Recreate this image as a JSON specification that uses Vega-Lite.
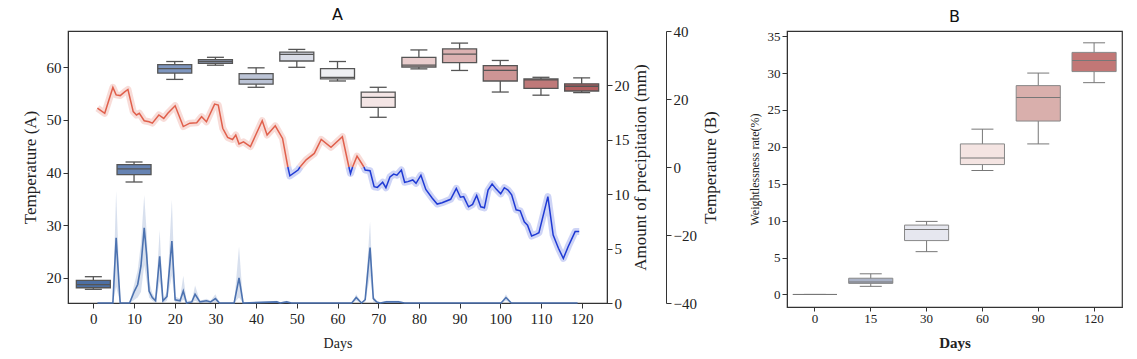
{
  "$schema": "https://vega.github.io/schema/vega-lite/v6.json",
  "padding": {"left": 20, "top": 6, "right": 5, "bottom": 5},
  "background": "white",
  "config": {
    "view": {"stroke": "#333", "strokeWidth": 1.2},
    "axis": {"grid": false, "labelFont": "Liberation Serif", "titleFont": "Liberation Serif", "titleFontWeight": "normal", "domainColor": "#333", "tickColor": "#333", "labelColor": "#222", "titleColor": "#222"},
    "title": {"font": "DejaVu Sans", "fontWeight": "normal", "fontSize": 16, "color": "#111"}
  },
  "datasets": {
    "temp": [
      {"day": 1, "t": 17.3, "zone": "warm", "seg": "r1"}, {"day": 2.8, "t": 15.8, "zone": "warm", "seg": "r1"}, {"day": 4.8, "t": 23.4, "zone": "warm", "seg": "r1"}, {"day": 5.6, "t": 21.2, "zone": "warm", "seg": "r1"}, {"day": 6.6, "t": 21.0, "zone": "warm", "seg": "r1"}, {"day": 7.7, "t": 22.1, "zone": "warm", "seg": "r1"}, {"day": 8.5, "t": 22.8, "zone": "warm", "seg": "r1"}, {"day": 9.8, "t": 16.3, "zone": "warm", "seg": "r1"}, {"day": 10.6, "t": 15.3, "zone": "warm", "seg": "r1"}, {"day": 11.3, "t": 15.8, "zone": "warm", "seg": "r1"}, {"day": 12.5, "t": 13.6, "zone": "warm", "seg": "r1"}, {"day": 13.7, "t": 13.3, "zone": "warm", "seg": "r1"}, {"day": 14.5, "t": 12.9, "zone": "warm", "seg": "r1"}, {"day": 16.1, "t": 15.3, "zone": "warm", "seg": "r1"}, {"day": 17.3, "t": 14.3, "zone": "warm", "seg": "r1"}, {"day": 18.3, "t": 15.8, "zone": "warm", "seg": "r1"}, {"day": 20.1, "t": 18.0, "zone": "warm", "seg": "r1"}, {"day": 22.1, "t": 11.9, "zone": "warm", "seg": "r1"}, {"day": 23.7, "t": 12.9, "zone": "warm", "seg": "r1"}, {"day": 25.4, "t": 13.0, "zone": "warm", "seg": "r1"}, {"day": 26.6, "t": 14.8, "zone": "warm", "seg": "r1"}, {"day": 27.8, "t": 13.3, "zone": "warm", "seg": "r1"}, {"day": 29.8, "t": 18.5, "zone": "warm", "seg": "r1"}, {"day": 30.7, "t": 18.2, "zone": "warm", "seg": "r1"}, {"day": 31.8, "t": 11.4, "zone": "warm", "seg": "r1"}, {"day": 33.0, "t": 8.7, "zone": "warm", "seg": "r1"}, {"day": 34.2, "t": 8.1, "zone": "warm", "seg": "r1"}, {"day": 35.0, "t": 9.4, "zone": "warm", "seg": "r1"}, {"day": 35.8, "t": 6.8, "zone": "warm", "seg": "r1"}, {"day": 36.9, "t": 7.4, "zone": "warm", "seg": "r1"}, {"day": 38.6, "t": 6.0, "zone": "warm", "seg": "r1"}, {"day": 39.9, "t": 9.4, "zone": "warm", "seg": "r1"}, {"day": 41.5, "t": 13.6, "zone": "warm", "seg": "r1"}, {"day": 42.7, "t": 9.4, "zone": "warm", "seg": "r1"}, {"day": 44.7, "t": 12.1, "zone": "warm", "seg": "r1"}, {"day": 46.5, "t": 8.4, "zone": "warm", "seg": "r1"}, {"day": 47.8, "t": 0, "zone": "warm", "seg": "r1"},
      {"day": 47.8, "t": 0, "zone": "cold", "seg": "b1"}, {"day": 48.3, "t": -2.6, "zone": "cold", "seg": "b1"}, {"day": 50.3, "t": -0.9, "zone": "cold", "seg": "b1"}, {"day": 50.8, "t": 0, "zone": "cold", "seg": "b1"},
      {"day": 50.8, "t": 0, "zone": "warm", "seg": "r2"}, {"day": 52.3, "t": 2.1, "zone": "warm", "seg": "r2"}, {"day": 54.3, "t": 4.0, "zone": "warm", "seg": "r2"}, {"day": 56.0, "t": 8.1, "zone": "warm", "seg": "r2"}, {"day": 58.4, "t": 5.8, "zone": "warm", "seg": "r2"}, {"day": 61.2, "t": 8.9, "zone": "warm", "seg": "r2"}, {"day": 62.8, "t": 0, "zone": "warm", "seg": "r2"},
      {"day": 62.8, "t": 0, "zone": "cold", "seg": "b2"}, {"day": 63.2, "t": -1.9, "zone": "cold", "seg": "b2"}, {"day": 63.7, "t": 0, "zone": "cold", "seg": "b2"},
      {"day": 63.7, "t": 0, "zone": "warm", "seg": "r3"}, {"day": 64.8, "t": 3.2, "zone": "warm", "seg": "r3"}, {"day": 66.5, "t": 0, "zone": "warm", "seg": "r3"},
      {"day": 66.5, "t": 0, "zone": "cold", "seg": "b3"}, {"day": 66.8, "t": -0.9, "zone": "cold", "seg": "b3"}, {"day": 68.0, "t": -1.1, "zone": "cold", "seg": "b3"}, {"day": 69.0, "t": -5.8, "zone": "cold", "seg": "b3"}, {"day": 69.8, "t": -6.0, "zone": "cold", "seg": "b3"}, {"day": 71.1, "t": -4.5, "zone": "cold", "seg": "b3"}, {"day": 71.9, "t": -6.1, "zone": "cold", "seg": "b3"}, {"day": 72.9, "t": -2.9, "zone": "cold", "seg": "b3"}, {"day": 73.8, "t": -2.1, "zone": "cold", "seg": "b3"}, {"day": 74.6, "t": -2.4, "zone": "cold", "seg": "b3"}, {"day": 75.7, "t": -0.9, "zone": "cold", "seg": "b3"}, {"day": 76.5, "t": -4.5, "zone": "cold", "seg": "b3"}, {"day": 77.3, "t": -4.3, "zone": "cold", "seg": "b3"}, {"day": 78.5, "t": -3.8, "zone": "cold", "seg": "b3"}, {"day": 79.3, "t": -4.8, "zone": "cold", "seg": "b3"}, {"day": 80.5, "t": -2.4, "zone": "cold", "seg": "b3"}, {"day": 81.7, "t": -6.6, "zone": "cold", "seg": "b3"}, {"day": 83.3, "t": -9.2, "zone": "cold", "seg": "b3"}, {"day": 84.5, "t": -10.9, "zone": "cold", "seg": "b3"}, {"day": 85.7, "t": -10.5, "zone": "cold", "seg": "b3"}, {"day": 87.8, "t": -9.5, "zone": "cold", "seg": "b3"}, {"day": 89.2, "t": -6.3, "zone": "cold", "seg": "b3"}, {"day": 90.2, "t": -8.9, "zone": "cold", "seg": "b3"}, {"day": 91.0, "t": -8.7, "zone": "cold", "seg": "b3"}, {"day": 92.2, "t": -11.7, "zone": "cold", "seg": "b3"}, {"day": 93.2, "t": -11.0, "zone": "cold", "seg": "b3"}, {"day": 94.2, "t": -8.4, "zone": "cold", "seg": "b3"}, {"day": 95.2, "t": -11.7, "zone": "cold", "seg": "b3"}, {"day": 96.1, "t": -12.0, "zone": "cold", "seg": "b3"}, {"day": 97.0, "t": -6.8, "zone": "cold", "seg": "b3"}, {"day": 98.0, "t": -5.0, "zone": "cold", "seg": "b3"}, {"day": 99.0, "t": -6.5, "zone": "cold", "seg": "b3"}, {"day": 100.1, "t": -7.9, "zone": "cold", "seg": "b3"}, {"day": 101.0, "t": -6.1, "zone": "cold", "seg": "b3"}, {"day": 101.9, "t": -6.8, "zone": "cold", "seg": "b3"}, {"day": 102.8, "t": -8.2, "zone": "cold", "seg": "b3"}, {"day": 103.9, "t": -12.6, "zone": "cold", "seg": "b3"}, {"day": 104.9, "t": -12.9, "zone": "cold", "seg": "b3"}, {"day": 105.9, "t": -16.1, "zone": "cold", "seg": "b3"}, {"day": 106.7, "t": -17.1, "zone": "cold", "seg": "b3"}, {"day": 107.7, "t": -20.3, "zone": "cold", "seg": "b3"}, {"day": 108.7, "t": -19.8, "zone": "cold", "seg": "b3"}, {"day": 109.5, "t": -19.3, "zone": "cold", "seg": "b3"}, {"day": 111.7, "t": -8.7, "zone": "cold", "seg": "b3"}, {"day": 113.0, "t": -20.0, "zone": "cold", "seg": "b3"}, {"day": 114.3, "t": -23.9, "zone": "cold", "seg": "b3"}, {"day": 115.5, "t": -26.9, "zone": "cold", "seg": "b3"}, {"day": 116.7, "t": -23.4, "zone": "cold", "seg": "b3"}, {"day": 118.4, "t": -19.0, "zone": "cold", "seg": "b3"}, {"day": 119.4, "t": -19.0, "zone": "cold", "seg": "b3"}
    ],
    "precip": [
      {"day": 1, "p": 0, "lo": 0, "hi": 0}, {"day": 4.8, "p": 0, "lo": 0, "hi": 0}, {"day": 5.6, "p": 6.0, "lo": 1.5, "hi": 10.3}, {"day": 6.6, "p": 0, "lo": 0, "hi": 0}, {"day": 8.9, "p": 0, "lo": 0, "hi": 0}, {"day": 10.1, "p": 1.1, "lo": 0.3, "hi": 1.8}, {"day": 10.9, "p": 1.7, "lo": 0.5, "hi": 3.0}, {"day": 11.7, "p": 3.4, "lo": 1.0, "hi": 5.5}, {"day": 12.5, "p": 6.9, "lo": 3.5, "hi": 9.9}, {"day": 13.1, "p": 4.4, "lo": 2.0, "hi": 6.5}, {"day": 13.7, "p": 1.1, "lo": 0.5, "hi": 2.0}, {"day": 14.5, "p": 0.5, "lo": 0.2, "hi": 0.9}, {"day": 15.3, "p": 0.2, "lo": 0, "hi": 0.4}, {"day": 16.3, "p": 4.3, "lo": 2.0, "hi": 6.7}, {"day": 17.1, "p": 0.2, "lo": 0, "hi": 0.4}, {"day": 18.1, "p": 0.6, "lo": 0.2, "hi": 1.0}, {"day": 19.3, "p": 5.7, "lo": 2.5, "hi": 9.5}, {"day": 20.1, "p": 0.3, "lo": 0, "hi": 0.6}, {"day": 21.3, "p": 0.2, "lo": 0, "hi": 0.4}, {"day": 22.1, "p": 1.1, "lo": 0.3, "hi": 2.5}, {"day": 22.9, "p": 0, "lo": 0, "hi": 0.2}, {"day": 24.2, "p": 0.1, "lo": 0, "hi": 0.2}, {"day": 25.0, "p": 0.8, "lo": 0.2, "hi": 1.6}, {"day": 26.2, "p": 0.1, "lo": 0, "hi": 0.2}, {"day": 27.8, "p": 0.2, "lo": 0, "hi": 0.4}, {"day": 28.8, "p": 0.1, "lo": 0, "hi": 0.2}, {"day": 30.0, "p": 0.4, "lo": 0.1, "hi": 0.8}, {"day": 31.0, "p": 0, "lo": 0, "hi": 0}, {"day": 34.6, "p": 0, "lo": 0, "hi": 0}, {"day": 35.8, "p": 2.3, "lo": 0.5, "hi": 5.2}, {"day": 36.8, "p": 0, "lo": 0, "hi": 0}, {"day": 45.1, "p": 0.1, "lo": 0, "hi": 0.2}, {"day": 45.9, "p": 0, "lo": 0, "hi": 0}, {"day": 47.5, "p": 0.1, "lo": 0, "hi": 0.2}, {"day": 48.7, "p": 0, "lo": 0, "hi": 0}, {"day": 63.5, "p": 0, "lo": 0, "hi": 0}, {"day": 64.6, "p": 0.5, "lo": 0.2, "hi": 0.8}, {"day": 65.9, "p": 0, "lo": 0, "hi": 0}, {"day": 66.8, "p": 0.3, "lo": 0.1, "hi": 0.5}, {"day": 68.0, "p": 5.1, "lo": 2.5, "hi": 7.5}, {"day": 68.8, "p": 0.4, "lo": 0.1, "hi": 0.7}, {"day": 69.6, "p": 0.1, "lo": 0, "hi": 0.2}, {"day": 70.5, "p": 0, "lo": 0, "hi": 0}, {"day": 72.0, "p": 0.1, "lo": 0, "hi": 0.2}, {"day": 75.0, "p": 0.1, "lo": 0, "hi": 0.2}, {"day": 76.5, "p": 0, "lo": 0, "hi": 0}, {"day": 100.2, "p": 0, "lo": 0, "hi": 0}, {"day": 101.4, "p": 0.5, "lo": 0.2, "hi": 0.8}, {"day": 102.7, "p": 0, "lo": 0, "hi": 0}, {"day": 119.0, "p": 0, "lo": 0, "hi": 0}
    ],
    "boxA": [
      {"day": 0, "lo": 17.8, "q1": 18.1, "med": 18.7, "q3": 19.5, "hi": 20.2},
      {"day": 10, "lo": 38.2, "q1": 39.6, "med": 40.7, "q3": 41.5, "hi": 42.0},
      {"day": 20, "lo": 57.7, "q1": 58.9, "med": 59.75, "q3": 60.5, "hi": 61.1},
      {"day": 30, "lo": 60.4, "q1": 60.75, "med": 61.1, "q3": 61.45, "hi": 61.9},
      {"day": 40, "lo": 56.2, "q1": 56.8, "med": 57.7, "q3": 58.8, "hi": 59.9},
      {"day": 50, "lo": 60.0, "q1": 61.2, "med": 62.45, "q3": 62.9, "hi": 63.4},
      {"day": 60, "lo": 57.4, "q1": 57.8, "med": 58.1, "q3": 59.75, "hi": 61.1},
      {"day": 70, "lo": 50.5, "q1": 52.4, "med": 54.3, "q3": 55.3, "hi": 56.2},
      {"day": 80, "lo": 59.7, "q1": 60.06, "med": 60.4, "q3": 61.9, "hi": 63.3},
      {"day": 90, "lo": 59.4, "q1": 60.9, "med": 62.5, "q3": 63.5, "hi": 64.6},
      {"day": 100, "lo": 55.3, "q1": 57.4, "med": 59.4, "q3": 60.3, "hi": 61.3},
      {"day": 110, "lo": 54.7, "q1": 56.0, "med": 57.6, "q3": 57.8, "hi": 58.1},
      {"day": 120, "lo": 55.2, "q1": 55.5, "med": 56.4, "q3": 56.85, "hi": 58.0}
    ],
    "boxB": [
      {"stage": 0, "lo": 0, "q1": 0, "med": 0, "q3": 0, "hi": 0},
      {"stage": 15, "lo": 1.1, "q1": 1.5, "med": 1.7, "q3": 2.2, "hi": 2.8},
      {"stage": 30, "lo": 5.8, "q1": 7.3, "med": 8.8, "q3": 9.4, "hi": 9.9},
      {"stage": 60, "lo": 16.8, "q1": 17.6, "med": 18.5, "q3": 20.4, "hi": 22.4},
      {"stage": 90, "lo": 20.4, "q1": 23.5, "med": 26.7, "q3": 28.3, "hi": 30.0},
      {"stage": 120, "lo": 28.7, "q1": 30.2, "med": 31.7, "q3": 32.8, "hi": 34.1}
    ]
  },
  "resolve": {"scale": {"x": "independent", "y": "independent", "color": "independent"}},
  "spacing": 27,
  "hconcat": [
    {
      "width": 539,
      "height": 272,
      "title": {"text": "A", "offset": 1},
      "encoding": {
        "x": {"field": "day", "type": "quantitative", "title": "Days",
          "scale": {"domain": [-5, 125], "nice": false, "zero": false},
          "axis": {"values": [0, 10, 20, 30, 40, 50, 60, 70, 80, 90, 100, 110, 120], "labelFontSize": 15, "titleFontSize": 14, "tickSize": 5, "labelPadding": 3, "titlePadding": 10, "labelFlush": false}}
      },
      "resolve": {"scale": {"y": "independent", "color": "independent"}},
      "layer": [
        {"data": {"name": "precip"},
         "mark": {"type": "area", "color": "#4c72b0", "opacity": 0.22},
         "encoding": {
           "y": {"field": "lo", "type": "quantitative", "scale": {"domain": [0, 25], "nice": false}, "title": "Amount of precipitation (mm)",
             "axis": {"orient": "right", "offset": 0, "values": [0, 5, 10, 15, 20], "labelFontSize": 15, "titleFontSize": 17, "titleAngle": 270, "titleBaseline": "top", "titlePadding": 3, "tickSize": 5}},
           "y2": {"field": "hi"}}},
        {"data": {"name": "precip"},
         "mark": {"type": "line", "color": "#4c72b0", "strokeWidth": 1.6},
         "encoding": {"y": {"field": "p", "type": "quantitative", "scale": {"domain": [0, 25], "nice": false}, "axis": null}}},
        {"data": {"name": "temp"},
         "mark": {"type": "line", "strokeWidth": 7, "opacity": 0.22, "strokeJoin": "round"},
         "encoding": {
           "y": {"field": "t", "type": "quantitative", "scale": {"domain": [-40, 40], "nice": false}, "title": "Temperature (B)",
             "axis": {"orient": "right", "offset": 59, "values": [-40, -20, 0, 20, 40], "labelFontSize": 15, "titleFontSize": 17, "titleAngle": 270, "titleBaseline": "top", "titlePadding": 6, "tickSize": 5}},
           "color": {"field": "zone", "type": "nominal", "scale": {"domain": ["warm", "cold"], "range": ["#e0604c", "#1f3ad4"]}, "legend": null},
           "detail": {"field": "seg"}}},
        {"data": {"name": "temp"},
         "mark": {"type": "line", "strokeWidth": 1.5},
         "encoding": {
           "y": {"field": "t", "type": "quantitative", "scale": {"domain": [-40, 40], "nice": false}, "axis": null},
           "color": {"field": "zone", "type": "nominal", "scale": {"domain": ["warm", "cold"], "range": ["#e0604c", "#1f3ad4"]}, "legend": null},
           "detail": {"field": "seg"}}},
        {"data": {"name": "boxA"},
         "mark": {"type": "rule", "color": "#555", "strokeWidth": 1.3},
         "encoding": {"y": {"field": "lo", "type": "quantitative", "scale": {"domain": [15.2, 66.9], "nice": false, "zero": false}, "title": "Temperature (A)",
           "axis": {"orient": "left", "values": [20, 30, 40, 50, 60], "labelFontSize": 15, "titleFontSize": 17, "titlePadding": 7, "tickSize": 5}},
           "y2": {"field": "hi"}}},
        {"data": {"name": "boxA"},
         "mark": {"type": "bar", "width": 34, "stroke": "#555", "strokeWidth": 1.3, "opacity": 1},
         "encoding": {"y": {"field": "q1", "type": "quantitative", "scale": {"domain": [15.2, 66.9], "nice": false, "zero": false}, "axis": null},
           "y2": {"field": "q3"},
           "color": {"field": "day", "type": "ordinal", "legend": null, "scale": {"domain": [0, 10, 20, 30, 40, 50, 60, 70, 80, 90, 100, 110, 120], "range": ["#4d6fa3", "#6683b3", "#7e96bf", "#9aa9c6", "#bcc4d6", "#dadde7", "#eeeff2", "#f4e5e5", "#e9cdcd", "#dcb2b2", "#cd9595", "#bf7979", "#b25f60"]}}}},
        {"data": {"name": "boxA"},
         "mark": {"type": "tick", "orient": "horizontal", "size": 34, "thickness": 1.3, "color": "#555", "opacity": 1},
         "encoding": {"y": {"field": "med", "type": "quantitative", "scale": {"domain": [15.2, 66.9], "nice": false, "zero": false}, "axis": null}}},
        {"data": {"name": "boxA"},
         "mark": {"type": "tick", "orient": "horizontal", "size": 17, "thickness": 1.3, "color": "#555", "opacity": 1},
         "encoding": {"y": {"field": "lo", "type": "quantitative", "scale": {"domain": [15.2, 66.9], "nice": false, "zero": false}, "axis": null}}},
        {"data": {"name": "boxA"},
         "mark": {"type": "tick", "orient": "horizontal", "size": 17, "thickness": 1.3, "color": "#555", "opacity": 1},
         "encoding": {"y": {"field": "hi", "type": "quantitative", "scale": {"domain": [15.2, 66.9], "nice": false, "zero": false}, "axis": null}}}
      ]
    },
    {
      "width": 335,
      "height": 276,
      "title": {"text": "B", "offset": 5},
      "data": {"name": "boxB"},
      "encoding": {
        "x": {"field": "stage", "type": "ordinal", "title": "Days", "scale": {"paddingInner": 0, "paddingOuter": 0},
          "axis": {"labelAngle": 0, "labelFontSize": 13, "titleFontSize": 15, "titleFontWeight": "bold", "tickSize": 4, "titlePadding": 10, "labelPadding": 1}}
      },
      "resolve": {"scale": {"y": "independent", "color": "independent"}},
      "layer": [
        {"mark": {"type": "rule", "color": "#777", "strokeWidth": 1},
         "encoding": {"y": {"field": "lo", "type": "quantitative", "scale": {"domain": [-1.7, 35.7], "nice": false, "zero": false}, "title": "Weightlessness rate(%)",
           "axis": {"values": [0, 5, 10, 15, 20, 25, 30, 35], "labelFontSize": 13, "titleFontSize": 12, "tickSize": 5, "titlePadding": 6}},
           "y2": {"field": "hi"}}},
        {"mark": {"type": "bar", "width": {"band": 0.79}, "stroke": "#888", "strokeWidth": 1, "opacity": 1},
         "encoding": {"y": {"field": "q1", "type": "quantitative", "scale": {"domain": [-1.7, 35.7], "nice": false, "zero": false}, "axis": null},
           "y2": {"field": "q3"},
           "color": {"field": "stage", "type": "ordinal", "legend": null, "scale": {"domain": [0, 15, 30, 60, 90, 120], "range": ["#777777", "#aab2c6", "#e6e7ef", "#f4e4e2", "#d9afac", "#c27776"]}}}},
        {"mark": {"type": "tick", "orient": "horizontal", "size": 44, "thickness": 1, "color": "#777", "opacity": 1},
         "encoding": {"y": {"field": "med", "type": "quantitative", "scale": {"domain": [-1.7, 35.7], "nice": false, "zero": false}, "axis": null}}},
        {"mark": {"type": "tick", "orient": "horizontal", "size": 22, "thickness": 1, "color": "#777", "opacity": 1},
         "encoding": {"y": {"field": "lo", "type": "quantitative", "scale": {"domain": [-1.7, 35.7], "nice": false, "zero": false}, "axis": null}}},
        {"mark": {"type": "tick", "orient": "horizontal", "size": 22, "thickness": 1, "color": "#777", "opacity": 1},
         "encoding": {"y": {"field": "hi", "type": "quantitative", "scale": {"domain": [-1.7, 35.7], "nice": false, "zero": false}, "axis": null}}}
      ]
    }
  ]
}
